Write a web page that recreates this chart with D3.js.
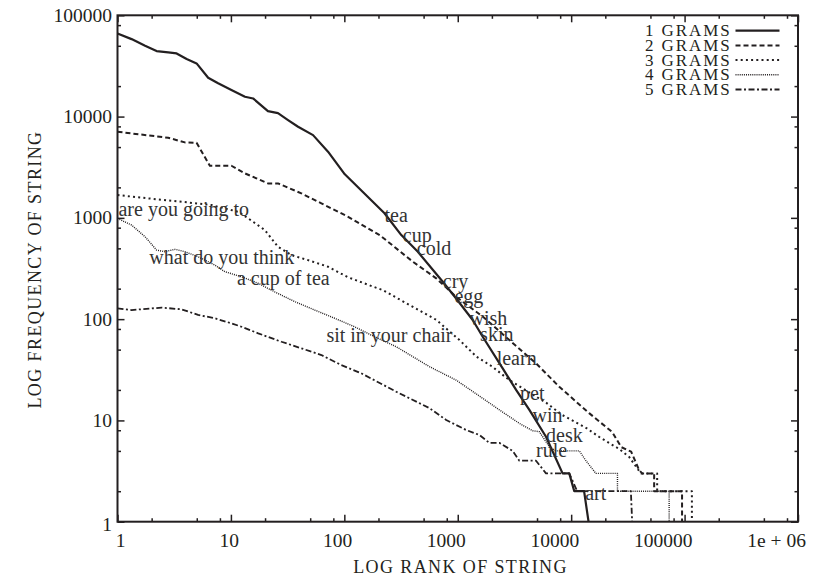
<!DOCTYPE html>
<html lang="en">
<head>
<meta charset="utf-8">
<title>Log rank vs log frequency of strings</title>
<script src="https://d3js.org/d3.v7.min.js"></script>
<style>
  body { margin: 0; background: #fff; }
  svg text { font-family: "Liberation Serif", "DejaVu Serif", serif; fill: #231f20; }
</style>
</head>
<body>
<div id="my_dataviz"></div>
<script>

// [rank, frequency] for each n-gram size
var grams1 = [[1,66200],[1.33,58200],[1.75,50000],[2.21,44300],[2.8,43000],[3.32,42000],[4.07,37000],[4.98,33500],
  [6.3,24200],[7.71,21300],[10.1,18300],[13.3,15700],[15.7,15100],[21.2,11300],[26,10800],[31.9,9230],[39.1,7930],
  [53,6560],[71.8,4500],[101,2690],[226,1110],[318,676],[445,462],[738,234],[968,160],[1355,98],[1660,67],
  [2490,32.7],[3270,20],[4280,12.7],[6000,6.9],[8400,3],[9620,3],[10650,2],[13000,2],[14230,1]];

var grams2 = [[1,7080],[2.8,6180],[3.93,5560],[4.98,5510],[6.52,3270],[10.1,3270],[13.3,2750],[21.2,2190],[26,2190],
  [41.8,1745],[62.8,1390],[108,1025],[205,676],[402,369],[646,253],[968,166],[1660,106],[2850,62.2],[4900,36.6],
  [7850,21.5],[14400,11.8],[23000,7.68],[27600,5.46],[33800,4.91],[39700,3.24],[42300,3],[53900,3],[53900,2],
  [95000,2],[95000,1]];

var grams3 = [[1,1680],[1.87,1557],[3.67,1442],[6.75,1337],[11.6,1148],[14.2,988],[19.9,758],[26,518],[34.2,429],
  [47.8,383],[71.8,329],[107,260],[174,212],[217,194],[399,133],[650,98],[1035,62.2],[1462,42.6],[2020,33.9],
  [2850,25],[6040,14.9],[8350,11.3],[13600,8.41],[17700,6.86],[26500,5.22],[32500,4.35],[39700,3.17],[41400,3],
  [57300,3],[57300,2],[116000,2],[116000,1]];

var grams4 = [[1,988],[1.33,849],[1.75,651],[2.21,481],[2.62,463],[3.21,489],[3.93,463],[5.14,413],[7.21,342],
  [8.84,294],[12.4,262],[17.4,226],[24.3,186],[36.5,149],[54.8,123],[82.2,102],[123,84.1],[185,67],[287,53.4],
  [564,33.9],[968,25],[1553,17.4],[2330,12.7],[3490,9.36],[4570,7.91],[5240,7.74],[6420,5.5],[7350,5],[11800,5],
  [13500,4],[16500,3],[25600,3],[25600,2],[73100,2],[73100,1]];

var grams5 = [[1,128],[1.33,123],[2.45,130],[3.67,125],[5.14,110],[7.21,102],[10.1,90.9],[12.4,84.1],[17.4,72.4],
  [27.9,59.8],[41.8,51.5],[62.8,44.2],[94.1,35.2],[141,29.2],[287,19.2],[564,13.2],[791,10.1],[1186,8.04],
  [1553,7.18],[1900,6],[2330,6],[3050,5],[3490,4],[4900,4],[6000,3],[9620,3],[11300,2],[33600,2],[34500,1]];

var seriesNames = ["1 GRAMS", "2 GRAMS", "3 GRAMS", "4 GRAMS", "5 GRAMS"];

// example strings written next to the curves: [text, rank, frequency]
var wordLabels = [["tea",226,915],["cup",328,581],["cold",436,429],["cry",738,201],["egg",935,144],
  ["wish",1268,87.5],["skin",1575,61.2],["learn",2205,35.2],["pet",3540,15.9],["win",4570,9.71],
  ["desk",6000,6.16],["rule",4900,4.32],["art",13300,1.64]];
var phraseLabels = [["are you going to",1.02,1042],["what do you think",1.91,350],
  ["a cup of tea",11.3,217],["sit in your chair",69.5,59.8]];

var xTickValues = [1, 10, 100, 1000, 10000, 100000, 1000000];
var xTickLabels = ["1", "10", "100", "1000", "10000", "100000", "1e + 06"];
var yTickValues = [1, 10, 100, 1000, 10000, 100000];
var yTickLabels = ["1", "10", "100", "1000", "10000", "100000"];

// set the dimensions and margins of the graph
var margin = {top: 15.3, right: 18, bottom: 55.3, left: 117.5},
    width = 816 - margin.left - margin.right,
    height = 577 - margin.top - margin.bottom;

var svg = d3.select("#my_dataviz")
  .append("svg")
    .attr("width", 816)
    .attr("height", 577)
  .append("g")
    .attr("transform", "translate(" + margin.left + "," + margin.top + ")");

var x = d3.scaleLog().domain([1, 1e6]).range([0, width]);
var y = d3.scaleLog().domain([1, 1e5]).range([height, 0]);

// minor ticks at 2, 5 and 8 of every decade
function minorTicks(top) {
  var out = [];
  for (var d = 1; d < top; d *= 10) { out.push(2 * d, 5 * d, 8 * d); }
  return out;
}
var xMinor = minorTicks(1e6), yMinor = minorTicks(1e5);

function styleAxis(g) {
  g.select(".domain").remove();
  g.selectAll("line").attr("stroke", "#231f20").attr("stroke-width", 1.5);
}

// ticks pointing inward on all four sides
svg.append("g").attr("transform", "translate(0," + height + ")")
  .call(d3.axisBottom(x).tickValues(xTickValues).tickSize(-7).tickFormat("")).call(styleAxis);
svg.append("g").attr("transform", "translate(0," + height + ")")
  .call(d3.axisBottom(x).tickValues(xMinor).tickSize(-3.5).tickFormat("")).call(styleAxis);
svg.append("g")
  .call(d3.axisTop(x).tickValues(xTickValues).tickSize(-7).tickFormat("")).call(styleAxis);
svg.append("g")
  .call(d3.axisTop(x).tickValues(xMinor).tickSize(-3.5).tickFormat("")).call(styleAxis);
svg.append("g")
  .call(d3.axisLeft(y).tickValues(yTickValues).tickSize(-7).tickFormat("")).call(styleAxis);
svg.append("g")
  .call(d3.axisLeft(y).tickValues(yMinor).tickSize(-3.5).tickFormat("")).call(styleAxis);
svg.append("g").attr("transform", "translate(" + width + ",0)")
  .call(d3.axisRight(y).tickValues(yTickValues).tickSize(-7).tickFormat("")).call(styleAxis);
svg.append("g").attr("transform", "translate(" + width + ",0)")
  .call(d3.axisRight(y).tickValues(yMinor).tickSize(-3.5).tickFormat("")).call(styleAxis);

// frame
svg.append("rect")
  .attr("width", width).attr("height", height)
  .attr("fill", "none").attr("stroke", "#231f20").attr("stroke-width", 2);

// tick labels
svg.selectAll(".xlab")
  .data(xTickValues)
  .enter().append("text")
    .attr("x", function(d) { return x(d) + 8; })
    .attr("y", height + 25)
    .attr("text-anchor", "end")
    .style("font-size", "19.5px")
    .text(function(d, i) { return xTickLabels[i]; });

svg.selectAll(".ylab")
  .data(yTickValues)
  .enter().append("text")
    .attr("x", -5.5)
    .attr("y", function(d) { return y(d); })
    .attr("dy", function(d) { return d === 1 ? "0.5em" : "0.33em"; })
    .attr("text-anchor", "end")
    .style("font-size", "19.5px")
    .text(function(d, i) { return yTickLabels[i]; });

// axis titles
svg.append("text")
  .attr("x", 343)
  .attr("y", height + 51.5)
  .attr("text-anchor", "middle")
  .style("font-size", "18px")
  .style("letter-spacing", "1.4px")
  .text("LOG RANK OF STRING");

svg.append("text")
  .attr("transform", "translate(" + (40.5 - margin.left) + "," + (269.5 - margin.top) + ") rotate(-90)")
  .attr("text-anchor", "middle")
  .style("font-size", "18px")
  .style("letter-spacing", "1.4px")
  .text("LOG FREQUENCY OF STRING");

// line styles per n-gram size
var lineStyles = [
  {dash: null, w: 2.2},
  {dash: "5,3", w: 2},
  {dash: "2,3.2", w: 2},
  {dash: "1,1.1", w: 1.4},
  {dash: "6,2.5,2,2.5", w: 1.8}
];
var allSeries = [grams1, grams2, grams3, grams4, grams5];

var line = d3.line()
  .x(function(d) { return x(d[0]); })
  .y(function(d) { return y(d[1]); });

svg.selectAll(".gram")
  .data(allSeries)
  .enter().append("path")
    .attr("d", line)
    .attr("fill", "none")
    .attr("stroke", "#231f20")
    .attr("stroke-width", function(d, i) { return lineStyles[i].w; })
    .attr("stroke-dasharray", function(d, i) { return lineStyles[i].dash; })
    .attr("stroke-linejoin", "round");

// example strings
svg.selectAll(".word")
  .data(wordLabels.concat(phraseLabels))
  .enter().append("text")
    .attr("x", function(d) { return x(d[1]); })
    .attr("y", function(d) { return y(d[2]); })
    .style("font-size", "20px")
    .style("fill", "#333")
    .text(function(d) { return d[0]; });

// legend
var legend = svg.selectAll(".legend")
  .data(seriesNames)
  .enter().append("g")
    .attr("transform", function(d, i) { return "translate(614," + (15.4 + 14.7 * i) + ")"; });

legend.append("text")
  .attr("y", 5.5)
  .attr("text-anchor", "end")
  .style("font-size", "17px")
  .style("letter-spacing", "1.9px")
  .text(function(d) { return d; });

legend.append("line")
  .attr("x1", 4).attr("x2", 48)
  .attr("stroke", "#231f20")
  .attr("stroke-width", function(d, i) { return lineStyles[i].w; })
  .attr("stroke-dasharray", function(d, i) { return lineStyles[i].dash; });

</script>
</body>
</html>
